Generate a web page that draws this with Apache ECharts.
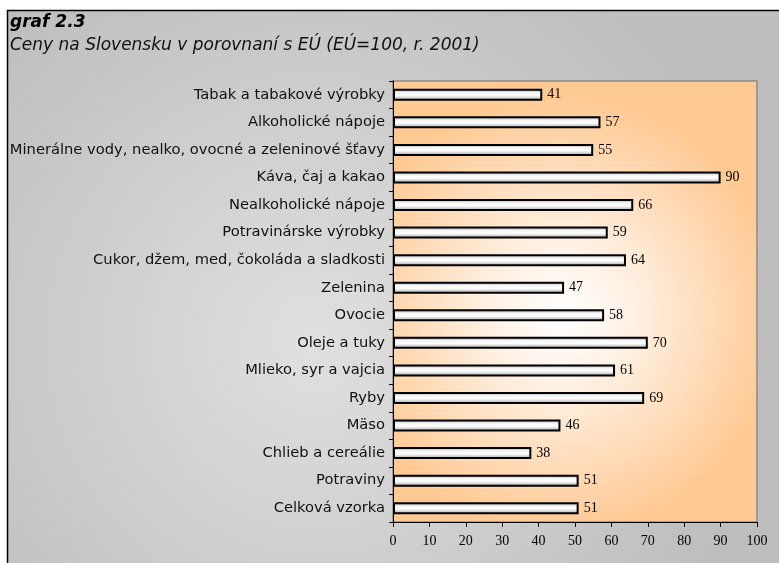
<!DOCTYPE html>
<html>
<head>
<meta charset="utf-8">
<script src="https://cdn.jsdelivr.net/npm/echarts@6/dist/echarts.min.js"></script>
<style>
  html, body { margin: 0; padding: 0; background: #fff; }
  #chart { width: 779px; height: 563px; }
</style>
</head>
<body>
<div id="chart"></div>
<script>
// kategórie zhora nadol
const categories = [
  'Tabak a tabakové výrobky',
  'Alkoholické nápoje',
  'Minerálne vody, nealko, ovocné a zeleninové šťavy',
  'Káva, čaj a kakao',
  'Nealkoholické nápoje',
  'Potravinárske výrobky',
  'Cukor, džem, med, čokoláda a sladkosti',
  'Zelenina',
  'Ovocie',
  'Oleje a tuky',
  'Mlieko, syr a vajcia',
  'Ryby',
  'Mäso',
  'Chlieb a cereálie',
  'Potraviny',
  'Celková vzorka'
]
const values = [41, 57, 55, 90, 66, 59, 64, 47, 58, 70, 61, 69, 46, 38, 51, 51]
const xTicks = { min: 0, max: 100, step: 10 }

const chart = echarts.init(document.getElementById('chart'))

const options = {
  animation: false,
  backgroundColor: '#fff',
  graphic: [
    {
      type: 'rect',
      z: -10,
      shape: { x: 7, y: 10, width: 772, height: 553 },
      style: {
        fill: new echarts.graphic.RadialGradient(0.4, 0.6, 0.8, [
          { offset: 0, color: '#e0e0e0' },
          { offset: 1, color: '#bebebe' }
        ])
      }
    },
    { type: 'line', z: -5, shape: { x1: 7, y1: 10.5, x2: 779, y2: 10.5 }, style: { stroke: '#000', lineWidth: 1.5 } },
    { type: 'line', z: -5, shape: { x1: 7.5, y1: 10, x2: 7.5, y2: 563 }, style: { stroke: '#000', lineWidth: 1.5 } },
    {
      type: 'text', left: 10, top: 14,
      style: { text: 'graf 2.3', font: 'italic bold 17px Verdana, "DejaVu Sans", sans-serif', fill: '#000' }
    },
    {
      type: 'text', left: 10, top: 37,
      style: { text: 'Ceny na Slovensku v porovnaní s EÚ (EÚ=100, r. 2001)', font: 'italic 17px Verdana, "DejaVu Sans", sans-serif', fill: '#111' }
    }
  ],
  grid: {
    left: 393,
    right: 22,
    top: 81,
    bottom: 41,
    show: true,
    borderColor: '#8c8c8c',
    borderWidth: 1.5,
    backgroundColor: new echarts.graphic.RadialGradient(0.46, 0.53, 0.6, [
      { offset: 0, color: '#ffffff' },
      { offset: 0.3, color: '#fff2e6' },
      { offset: 1, color: '#ffc993' }
    ])
  },
  xAxis: {
    type: 'value',
    min: xTicks.min,
    max: xTicks.max,
    interval: xTicks.step,
    splitLine: { show: false },
    axisLine: { show: true, lineStyle: { color: '#000', width: 1 } },
    axisTick: { show: true, length: 5, lineStyle: { color: '#000' } },
    axisLabel: {
      margin: 12,
      color: '#000',
      fontSize: 14,
      fontFamily: '"Times New Roman", "Liberation Serif", serif'
    }
  },
  yAxis: {
    type: 'category',
    inverse: true,
    data: categories,
    axisLine: { show: true, lineStyle: { color: '#000', width: 1 } },
    axisTick: { show: true, length: 4, lineStyle: { color: '#000' } },
    axisLabel: {
      margin: 8,
      color: '#111',
      fontSize: 14.7,
      fontFamily: 'Verdana, "DejaVu Sans", sans-serif'
    }
  },
  series: [{
    type: 'bar',
    data: values,
    barWidth: 12,
    itemStyle: {
      borderColor: '#000',
      borderWidth: 2,
      color: new echarts.graphic.LinearGradient(0, 0, 0, 1, [
        { offset: 0, color: '#8a8a8a' },
        { offset: 0.3, color: '#f4f4f4' },
        { offset: 0.55, color: '#ffffff' },
        { offset: 0.8, color: '#c8c8c8' },
        { offset: 1, color: '#9a9a9a' }
      ])
    },
    label: {
      show: true,
      position: 'right',
      distance: 5,
      color: '#000',
      fontSize: 14,
      fontFamily: '"Times New Roman", "Liberation Serif", serif'
    }
  }]
}

chart.setOption(options)
</script>
</body>
</html>
